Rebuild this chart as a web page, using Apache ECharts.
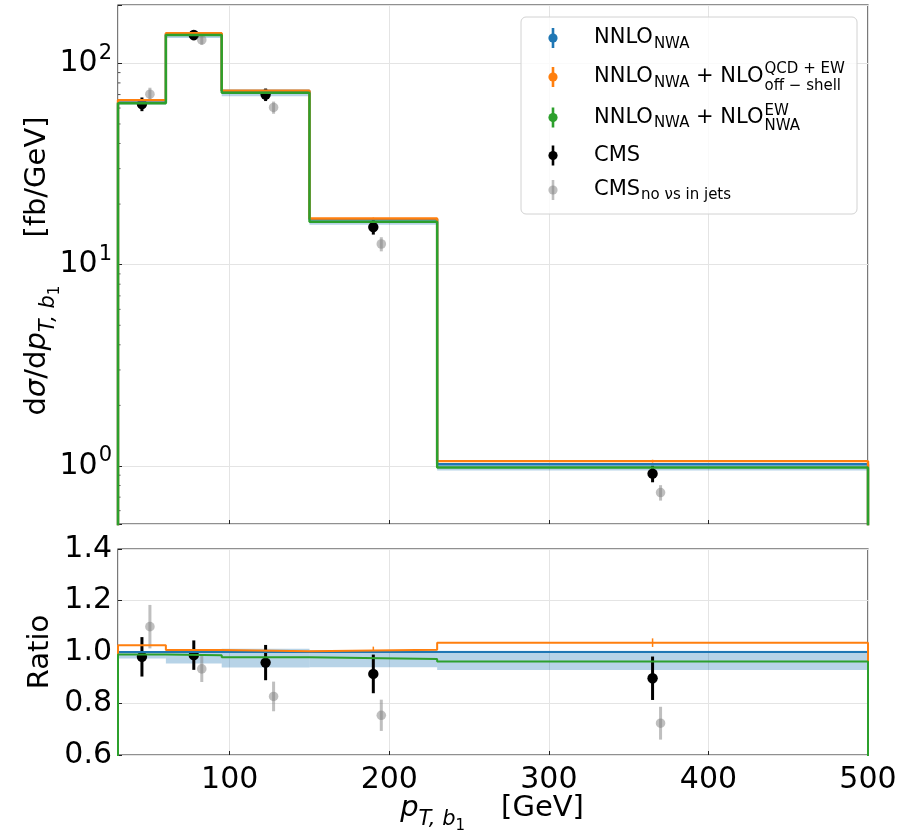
<!DOCTYPE html>
<html>
<head>
<meta charset="utf-8">
<script src="https://cdn.jsdelivr.net/npm/echarts@6/dist/echarts.min.js"></script>
<style>
  html, body { margin: 0; padding: 0; background: #fff; }
  #chart { width: 901px; height: 837px; }
</style>
</head>
<body>
<div id="chart"></div>
<script>
// Bin layout of p_T,b1 [GeV]
const binEdges = [30, 60, 95, 150, 230, 500];
const binCentres = [45, 77.5, 122.5, 190, 365];
const shiftedCentres = [50, 82.5, 127.5, 195, 370];

// Predictions, dsigma/dpT [fb/GeV]
const nnloNWA = [64, 140, 73, 16.8, 1.02];
const nnloOffShell = [65.7, 141.1, 73.2, 16.95, 1.057];
const nnloOffShellErr = [0.26, 0.56, 0.37, 0.2, 0.017];
const nnloEW = [63.4, 138.3, 71.5, 16.35, 0.982];
const scaleLow = [62.4, 133.8, 68.6, 15.8, 0.949];
const scaleHigh = [64, 140, 73.9, 16.93, 1.025];

// Measurements
const cms = [62.8, 138.3, 70.0, 15.37, 0.916];
const cmsErr = [4.9, 8.0, 5.0, 1.26, 0.086];
const cmsNoNu = [70.3, 130.8, 60.4, 12.67, 0.738];
const cmsNoNuErr = [5.4, 7.1, 4.2, 1.02, 0.065];

// Axis ranges
const xMin = 30, xMax = 500;
const yMainMin = 0.515, yMainMax = 195;
const yRatioMin = 0.6, yRatioMax = 1.4, yRatioStep = 0.2;
const minorLogTicks = [0.6, 0.7, 0.8, 0.9, 2, 3, 4, 5, 6, 7, 8, 9, 20, 30, 40, 50, 60, 70, 80, 90];

const C_BLUE = '#1f77b4', C_ORANGE = '#ff7f0e', C_GREEN = '#2ca02c';
const C_GREY = 'rgba(128,128,128,0.5)';
const F = '"DejaVu Sans", sans-serif';

const ratio = (arr) => arr.map((v, i) => v / nnloNWA[i]);

function stairs(vals, floor) {
  const pts = [[binEdges[0], floor]];
  vals.forEach((v, i) => pts.push([binEdges[i], v]));
  pts.push([binEdges[binEdges.length - 1], vals[vals.length - 1]]);
  pts.push([binEdges[binEdges.length - 1], floor]);
  return pts;
}

function stepSeries(vals, floor, color, gi, w) {
  return {
    type: 'line', xAxisIndex: gi, yAxisIndex: gi, data: stairs(vals, floor),
    step: 'end', symbol: 'none', clip: true, silent: true,
    lineStyle: { color: color, width: w }
  };
}

function bandSeries(lo, hi, gi) {
  return {
    type: 'custom', xAxisIndex: gi, yAxisIndex: gi, clip: true, silent: true,
    encode: { x: [0, 1], y: [2, 3] },
    data: lo.map((v, i) => [binEdges[i], binEdges[i + 1], v, hi[i]]),
    renderItem: (params, api) => {
      const p0 = api.coord([api.value(0), api.value(3)]);
      const p1 = api.coord([api.value(1), api.value(2)]);
      return { type: 'rect', shape: { x: p0[0], y: p0[1], width: p1[0] - p0[0], height: p1[1] - p0[1] },
               style: { fill: 'rgba(31,119,180,0.32)' } };
    }
  };
}

function errorSeries(xs, vals, errs, gi, color, lw, r) {
  return {
    type: 'custom', xAxisIndex: gi, yAxisIndex: gi, clip: true, silent: true,
    encode: { x: 0, y: 1 },
    data: xs.map((x, i) => [x, vals[i], errs[i]]),
    renderItem: (params, api) => {
      const x = api.value(0), y = api.value(1), e = api.value(2);
      const c = api.coord([x, y]);
      const t = api.coord([x, y + e]);
      const b = api.coord([x, y - e]);
      const children = [{ type: 'line', shape: { x1: c[0], y1: t[1], x2: c[0], y2: b[1] },
                          style: { stroke: color, lineWidth: lw } }];
      if (r > 0) children.push({ type: 'circle', shape: { cx: c[0], cy: c[1], r: r }, style: { fill: color } });
      return { type: 'group', children: children };
    }
  };
}

const minorTickSeries = {
  type: 'custom', xAxisIndex: 0, yAxisIndex: 0, silent: true, clip: true,
  encode: { x: 0, y: 1 },
  data: minorLogTicks.map(v => [xMin, v]),
  renderItem: (params, api) => {
    const p = api.coord([api.value(0), api.value(1)]);
    return { type: 'line', shape: { x1: p[0], y1: p[1], x2: p[0] + 2.5, y2: p[1] },
             style: { stroke: '#222', lineWidth: 0.8 } };
  }
};

const tickStyle = { inside: true, length: 4, lineStyle: { color: '#222', width: 1 } };
const gridLine = { show: true, lineStyle: { color: '#e4e4e4', width: 1 } };
const tickFont = { fontFamily: F, fontSize: 30, color: '#000' };

// text measurement for hand-set math labels
const mctx = document.createElement('canvas').getContext('2d');
function textWidth(str, size, italic) {
  mctx.font = (italic ? 'italic ' : '') + size + 'px "DejaVu Sans"';
  return mctx.measureText(str).width;
}

// pieces: {t, size, italic, dy, gap} or {stack:[sup, sub], size, up, down}
function mathPieces(pieces, z) {
  let total = 0;
  pieces.forEach(p => {
    if (p.stack) total += Math.max(textWidth(p.stack[0], p.size), textWidth(p.stack[1], p.size));
    else total += textWidth(p.t, p.size, p.italic) + (p.gap || 0);
  });
  return { total: total, build: (x0) => {
    const els = [];
    let x = x0;
    pieces.forEach(p => {
      if (p.stack) {
        els.push({ type: 'text', x: x, y: -p.up, z: z, style: { text: p.stack[0], font: p.size + 'px ' + F, fill: '#000', align: 'left', verticalAlign: 'middle' } });
        els.push({ type: 'text', x: x, y: p.down, z: z, style: { text: p.stack[1], font: p.size + 'px ' + F, fill: '#000', align: 'left', verticalAlign: 'middle' } });
        x += Math.max(textWidth(p.stack[0], p.size), textWidth(p.stack[1], p.size));
      } else {
        els.push({ type: 'text', x: x, y: p.dy || 0, z: z, style: { text: p.t, font: (p.italic ? 'italic ' : '') + p.size + 'px ' + F, fill: '#000', align: 'left', verticalAlign: 'middle' } });
        x += textWidth(p.t, p.size, p.italic) + (p.gap || 0);
      }
    });
    return els;
  } };
}

function mathLabel(pieces, cx, cy, rotation, centred) {
  const m = mathPieces(pieces, 50);
  return { type: 'group', x: cx, y: cy, rotation: rotation || 0,
           children: m.build(centred ? -m.total / 2 : 0) };
}

// legend
const LS = 21, LSS = 15;
const legendRows = [
  { y: 38, color: C_BLUE, pieces: [
      { t: 'NNLO', size: LS, gap: 1 }, { t: 'NWA', size: LSS, dy: 6 } ] },
  { y: 77, color: C_ORANGE, pieces: [
      { t: 'NNLO', size: LS, gap: 1 }, { t: 'NWA', size: LSS, dy: 6 }, { t: ' + NLO', size: LS, gap: 1 },
      { stack: ['QCD + EW', 'off \u2212 shell'], size: LSS, up: 8, down: 9 } ] },
  { y: 117.5, color: C_GREEN, pieces: [
      { t: 'NNLO', size: LS, gap: 1 }, { t: 'NWA', size: LSS, dy: 6 }, { t: ' + NLO', size: LS, gap: 1 },
      { stack: ['EW', 'NWA'], size: LSS, up: 6.5, down: 8.5 } ] },
  { y: 155.5, color: '#000', pieces: [ { t: 'CMS', size: LS } ] },
  { y: 190, color: C_GREY, pieces: [ { t: 'CMS', size: LS, gap: 1 }, { t: 'no \u03bds in jets', size: LSS, dy: 5 } ] }
];

const legendEls = [{
  type: 'rect', z: 40, shape: { x: 521, y: 17, width: 336, height: 197, r: 5 },
  style: { fill: 'rgba(255,255,255,0.8)', stroke: '#d2d2d2', lineWidth: 1 }
}];
legendRows.forEach(row => {
  legendEls.push({ type: 'line', z: 45, shape: { x1: 553, y1: row.y - 10, x2: 553, y2: row.y + 10 },
                   style: { stroke: row.color, lineWidth: 2.6 } });
  legendEls.push({ type: 'circle', z: 45, shape: { cx: 553, cy: row.y, r: 4.6 }, style: { fill: row.color } });
  const m = mathPieces(row.pieces, 50);
  legendEls.push({ type: 'group', x: 594, y: row.y, children: m.build(0) });
});

// axis titles
const yTitle = mathLabel([
  { t: 'd', size: 29 }, { t: '\u03c3', size: 29, italic: true }, { t: '/d', size: 29 },
  { t: 'p', size: 29, italic: true }, { t: 'T, b', size: 21, italic: true, dy: 12 },
  { t: '1', size: 15, dy: 18, gap: 48 }, { t: '[fb/GeV]', size: 29 }
], 37, 266, Math.PI / 2, true);
const ratioTitle = mathLabel([{ t: 'Ratio', size: 29 }], 40, 652, Math.PI / 2, true);
const xTitle = mathLabel([
  { t: 'p', size: 29, italic: true }, { t: 'T, b', size: 21, italic: true, dy: 12 },
  { t: '1', size: 15, dy: 18, gap: 36 }, { t: '[GeV]', size: 29 }
], 492, 808, 0, true);

const chart = echarts.init(document.getElementById('chart'), null, { renderer: 'canvas' });
chart.setOption({
  animation: false,
  backgroundColor: '#fff',
  grid: [
    { left: 118, top: 5, width: 750, height: 519, show: true, borderColor: '#222', borderWidth: 1.2 },
    { left: 118, top: 549, width: 750, height: 206, show: true, borderColor: '#222', borderWidth: 1.2 }
  ],
  xAxis: [
    { type: 'value', gridIndex: 0, min: xMin, max: xMax,
      axisLine: { show: false }, axisTick: tickStyle, axisLabel: { show: false }, splitLine: gridLine },
    { type: 'value', gridIndex: 1, min: xMin, max: xMax,
      axisLine: { show: false }, axisTick: tickStyle, splitLine: gridLine,
      axisLabel: Object.assign({ margin: 10, formatter: v => (v % 100 === 0 ? String(v) : '') }, tickFont) }
  ],
  yAxis: [
    { type: 'log', logBase: 10, gridIndex: 0, min: yMainMin, max: yMainMax,
      axisLine: { show: false }, axisTick: tickStyle, splitLine: gridLine,
      axisLabel: {
        margin: 6,
        formatter: v => {
          const e = Math.log10(v), r = Math.round(e);
          if (Math.abs(e - r) > 1e-6) return '';
          return '{b|10}{e|' + r + '}';
        },
        rich: {
          b: { fontFamily: F, fontSize: 30, color: '#000', verticalAlign: 'middle' },
          e: { fontFamily: F, fontSize: 21, color: '#000', verticalAlign: 'middle', padding: [0, 0, 20, 1] }
        }
      } },
    { type: 'value', gridIndex: 1, min: yRatioMin, max: yRatioMax, interval: yRatioStep,
      axisLine: { show: false }, axisTick: tickStyle, splitLine: gridLine,
      axisLabel: Object.assign({ margin: 6, formatter: v => v.toFixed(1) }, tickFont) }
  ],
  series: [
    bandSeries(scaleLow, scaleHigh, 0),
    stepSeries(nnloNWA, 0.01, C_BLUE, 0, 2.4),
    stepSeries(nnloOffShell, 0.01, C_ORANGE, 0, 2.4),
    errorSeries(binCentres, nnloOffShell, nnloOffShellErr, 0, C_ORANGE, 1.5, 0),
    stepSeries(nnloEW, 0.01, C_GREEN, 0, 2.4),
    minorTickSeries,
    errorSeries(binCentres, cms, cmsErr, 0, '#000', 3, 5.2),
    errorSeries(shiftedCentres, cmsNoNu, cmsNoNuErr, 0, C_GREY, 3, 4.8),

    bandSeries(ratio(scaleLow), ratio(scaleHigh), 1),
    stepSeries(ratio(nnloNWA), 0, C_BLUE, 1, 2),
    stepSeries(ratio(nnloOffShell), 0, C_ORANGE, 1, 2),
    errorSeries(binCentres, ratio(nnloOffShell), ratio(nnloOffShellErr), 1, C_ORANGE, 1.5, 0),
    stepSeries(ratio(nnloEW), 0, C_GREEN, 1, 2),
    errorSeries(binCentres, ratio(cms), ratio(cmsErr), 1, '#000', 3, 5.2),
    errorSeries(shiftedCentres, ratio(cmsNoNu), ratio(cmsNoNuErr), 1, C_GREY, 3, 4.8)
  ],
  graphic: [
    { type: 'group', children: legendEls },
    yTitle, ratioTitle, xTitle
  ]
});
</script>
</body>
</html>
